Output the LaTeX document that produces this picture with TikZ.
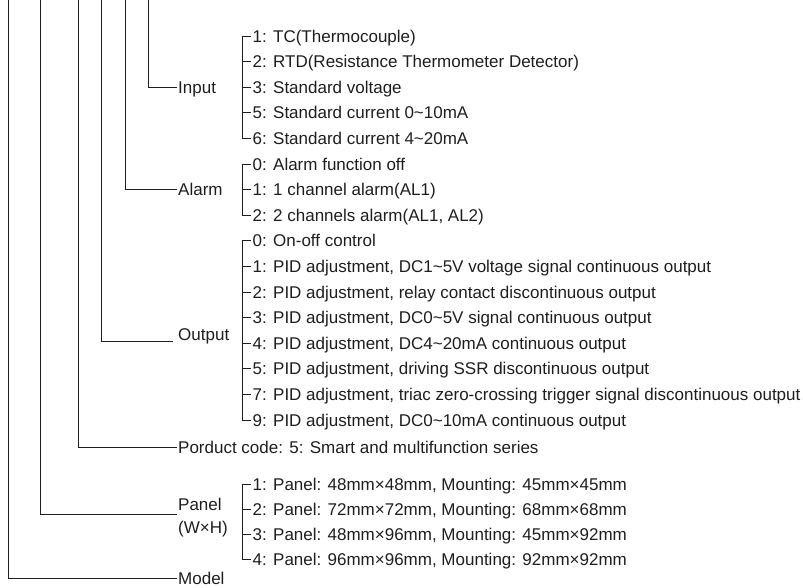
\documentclass[tikz,border=0pt]{standalone}
\usepackage{fontspec}
\setmainfont{Liberation Sans}
\usepackage{tikz}
\definecolor{linegray}{RGB}{30,30,30}
\definecolor{textgray}{RGB}{30,30,30}
\usetikzlibrary{positioning}

\begin{document}
\begin{tikzpicture}[x=1pt, y=-1pt,
			eintrag/.style={anchor=west, inner sep=1.5pt, text height=12pt, text depth=0pt, text=textgray},
			gruppe/.style={anchor=west, inner sep=1.5pt, text=textgray, align=left},
			ast/.style={draw=linegray, line width=0.9pt},
			font=\fontsize{17}{23}\selectfont]
			%Bildbereich
			\useasboundingbox (0,0) rectangle (803,587);
			% Startpunkte oben
			\coordinate (s1) at (8,0);
			\coordinate (s2) at (40,0);
			\coordinate (s3) at (78,0);
			\coordinate (s4) at (101,0);
			\coordinate (s5) at (125,0);
			\coordinate (s6) at (148,0);
			% Gruppen
			\node[eintrag] (input) at (176.5,87.2) {Input};
			\node[eintrag] (alarm) at (176.5,189.6) {Alarm};
			\node[eintrag] (output) at (176.5,334) {Output};
			\node[eintrag] (code) at (176.5,447) {Porduct code: 5: Smart and multifunction series};
			\node[gruppe] (panel) at (176.5,518) {Panel\\(W×H)};
			\node[eintrag] (model) at (176.5,578.5) {Model};
			% Eingang
			\node[eintrag] (in1) at (251,36) {1: TC(Thermocouple)};
			\node[eintrag] (in2) at (251,61.6) {2: RTD(Resistance Thermometer Detector)};
			\node[eintrag] (in3) at (251,87.2) {3: Standard voltage};
			\node[eintrag] (in4) at (251,112.8) {5: Standard current 0\textasciitilde10mA};
			\node[eintrag] (in5) at (251,138.4) {6: Standard current 4\textasciitilde20mA};
			% Alarm
			\node[eintrag] (al1) at (251,164) {0: Alarm function off};
			\node[eintrag] (al2) at (251,189.6) {1: 1 channel alarm(AL1)};
			\node[eintrag] (al3) at (251,215.2) {2: 2 channels alarm(AL1, AL2)};
			% Ausgang
			\node[eintrag] (out1) at (251,240.8) {0: On-off control};
			\node[eintrag] (out2) at (251,266.4) {1: PID adjustment, DC1\textasciitilde5V voltage signal continuous output};
			\node[eintrag] (out3) at (251,292) {2: PID adjustment, relay contact discontinuous output};
			\node[eintrag] (out4) at (251,317.6) {3: PID adjustment, DC0\textasciitilde5V signal continuous output};
			\node[eintrag] (out5) at (251,343.2) {4: PID adjustment, DC4\textasciitilde20mA continuous output};
			\node[eintrag] (out6) at (251,368.8) {5: PID adjustment, driving SSR discontinuous output};
			\node[eintrag] (out7) at (251,394.4) {7: PID adjustment, triac zero-crossing trigger signal discontinuous output};
			\node[eintrag] (out8) at (251,420) {9: PID adjustment, DC0\textasciitilde10mA continuous output};
			% Panel
			\node[eintrag] (pa1) at (251,484) {1: Panel: 48mm×48mm, Mounting: 45mm×45mm};
			\node[eintrag] (pa2) at (251,509) {2: Panel: 72mm×72mm, Mounting: 68mm×68mm};
			\node[eintrag] (pa3) at (251,534) {3: Panel: 48mm×96mm, Mounting: 45mm×92mm};
			\node[eintrag] (pa4) at (251,559) {4: Panel: 96mm×96mm, Mounting: 92mm×92mm};
			% Hauptaeste
			\draw[ast] (s6) |- (input.west);
			\draw[ast] (s5) |- (alarm.west);
			\draw[ast] (s4) |- ([xshift=-4pt]output.south west);
			\draw[ast] (s3) |- (code.west);
			\draw[ast] (s2) |- ([yshift=4pt]panel.west);
			\draw[ast] (s1) |- (model.west);
			% Klammern
			\draw[ast] (in1.west) -- ++(-9,0) |- (in5.west);
			\foreach \n in {2,...,4} \draw[ast] (in\n.west) -- ++(-9,0);
			\draw[ast] (al1.west) -- ++(-9,0) |- (al3.west);
			\draw[ast] (al2.west) -- ++(-9,0);
			\draw[ast] (out1.west) -- ++(-9,0) |- (out8.west);
			\foreach \n in {2,...,7} \draw[ast] (out\n.west) -- ++(-9,0);
			\draw[ast] (pa1.west) -- ++(-9,0) |- (pa4.west);
			\foreach \n in {2,3} \draw[ast] (pa\n.west) -- ++(-9,0);
		\end{tikzpicture}
\end{document}
